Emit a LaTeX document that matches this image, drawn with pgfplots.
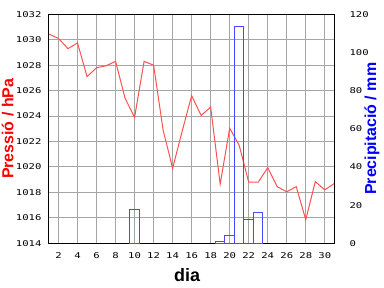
\documentclass[border=0pt]{standalone}
\usepackage{pgfplots}
\pgfplotsset{compat=1.18}
\usepackage{fontspec}
\setmainfont{Liberation Sans}
\newfontfamily\tickfont[FakeStretch=1.33]{DejaVu Sans Mono}
\definecolor{pline}{RGB}{255,80,80}
\definecolor{pbar}{RGB}{72,72,255}
\definecolor{gridgray}{RGB}{165,165,165}
\begin{document}
\begin{tikzpicture}
\useasboundingbox (0,0) rectangle (384bp,288bp);
\begin{axis}[
  at={(49bp,44.7bp)}, anchor=south west,
  scale only axis, width=285.3bp, height=229bp,
  xmin=1, xmax=31, ymin=1014, ymax=1032,
  xtick={2,4,...,30}, ytick={1014,1016,...,1032},
  grid=major, major grid style={gridgray, line width=1bp},
  major tick length=0pt,
  axis line style={black, line width=1bp},
  /pgf/number format/assume math mode=true,
  /pgf/number format/1000 sep={},
  tick label style={font=\tickfont\fontsize{8}{9}\selectfont},
  yticklabel style={inner sep=0pt, anchor=east, xshift=-7.3bp},
  xticklabel style={inner sep=0pt, anchor=north, yshift=-9.4bp},
  xlabel={dia},
  xlabel style={font=\bfseries\fontsize{18}{20}\selectfont, at={([xshift=-4.6bp,yshift=-38.4bp]rel axis cs:0.5,0)}, anchor=base, inner sep=0pt},
  ylabel={Pressió / hPa},
  ylabel style={font=\bfseries\fontsize{16}{18}\selectfont, color=red, at={([xshift=-35.7bp]rel axis cs:0,0.5)}, anchor=base, inner sep=0pt},
]
\addplot[pline, line width=1bp, mark=none] coordinates {
(1,1030.45) (2,1030.1) (3,1029.3) (4,1029.75) (5,1027.1) (6,1027.8)
(7,1027.95) (8,1028.3) (9,1025.4) (10,1023.9) (11,1028.3) (12,1028.0)
(13,1022.9) (14,1019.9) (15,1022.8) (16,1025.6) (17,1024.05) (18,1024.7)
(19,1018.65) (20,1023.05) (21,1021.7) (22,1018.8) (23,1018.8) (24,1019.95)
(25,1018.45) (26,1018.05) (27,1018.45) (28,1015.85) (29,1018.85) (30,1018.2)
(31,1018.7)};
\end{axis}
\begin{axis}[
  at={(49bp,44.7bp)}, anchor=south west,
  scale only axis, width=285.3bp, height=229bp,
  xmin=1, xmax=31, ymin=0, ymax=120,
  axis x line=none, axis y line*=right,
  ytick={0,20,...,120},
  major tick length=0pt,
  axis line style={black, line width=1bp},
  /pgf/number format/assume math mode=true,
  tick label style={font=\tickfont\fontsize{8}{9}\selectfont},
  yticklabel style={inner sep=0pt, anchor=west, xshift=15bp},
  ylabel={Precipitació / mm},
  ylabel style={font=\bfseries\fontsize{16}{18}\selectfont, color=blue, at={([xshift=41.7bp]rel axis cs:1,0.5)}, anchor=base, rotate=0, inner sep=0pt},
]
\addplot[ybar, bar width=1, draw=pbar, fill=none, line width=1bp] coordinates {
(10,17.8) (19,1.2) (20,4.2) (21,113.7) (22,12.6) (23,16.4)};
\end{axis}
\end{tikzpicture}
\end{document}
